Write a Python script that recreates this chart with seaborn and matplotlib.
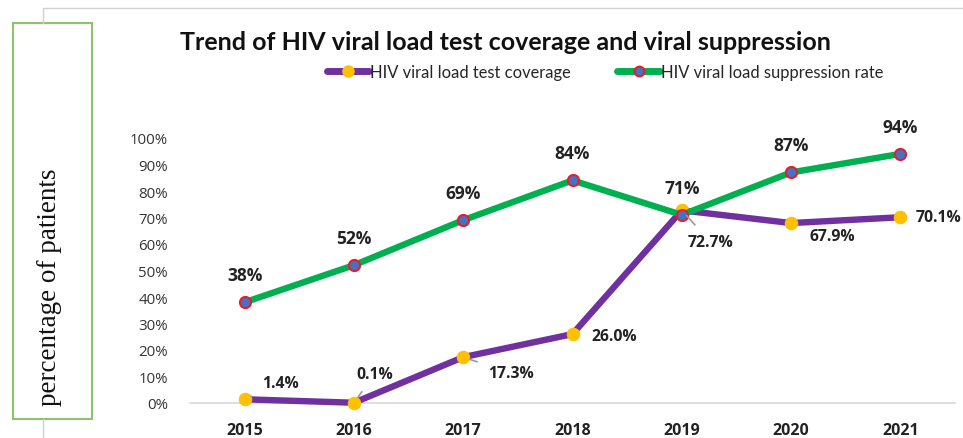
import numpy as np
import pandas as pd
import matplotlib
matplotlib.use("Agg")
import matplotlib.pyplot as plt
from matplotlib.lines import Line2D
from matplotlib.patches import Rectangle
import seaborn as sns

# data
years = [2015, 2016, 2017, 2018, 2019, 2020, 2021]
coverage = [1.4, 0.1, 17.3, 26.0, 72.7, 67.9, 70.1]
suppression = [38, 52, 69, 84, 71, 87, 94]
cov_labels = ["1.4%", "0.1%", "17.3%", "26.0%", "72.7%", "67.9%", "70.1%"]
sup_labels = ["38%", "52%", "69%", "84%", "71%", "87%", "94%"]
yticks = [0, 10, 20, 30, 40, 50, 60, 70, 80, 90, 100]

df = pd.DataFrame({"year": years, "coverage": coverage, "suppression": suppression})

sns.set_theme(style="white")
plt.rcParams["font.family"] = ["Open Sans", "DejaVu Sans"]

purple = "#7030A0"
green = "#00B050"
yellow = "#FFC000"
blue = "#4472C4"
red = "#E02030"

fig = plt.figure(figsize=(9.63, 4.39), dpi=100)
ax = fig.add_axes([190 / 963, 1 - 404 / 439, 765 / 963, 265 / 439])

sns.lineplot(data=df, x="year", y="coverage", ax=ax, color=purple, linewidth=4.6,
             marker="o", markersize=9, markerfacecolor=yellow,
             markeredgecolor=yellow, clip_on=False, zorder=3)
sns.lineplot(data=df, x="year", y="suppression", ax=ax, color=green, linewidth=4.6,
             marker="o", markersize=8, markerfacecolor=blue,
             markeredgecolor=red, markeredgewidth=1.5, clip_on=False, zorder=4)

ax.set_xlim(2014.5, 2021.5)
ax.set_ylim(0, 100)
ax.set_xticks(years)
ax.set_xticklabels([str(y) for y in years], fontsize=11.5, fontweight="bold", color="#222222")
ax.set_yticks(yticks)
ax.set_yticklabels([f"{t}%" for t in yticks], fontsize=10.8, color="#333333")
ax.tick_params(axis="both", length=0)
ax.tick_params(axis="x", pad=14)
ax.tick_params(axis="y", pad=16)
ax.set_xlabel("")
ax.set_ylabel("")
for s in ["top", "right", "left"]:
    ax.spines[s].set_visible(False)
ax.spines["bottom"].set_color("#D9D9D9")
ax.spines["bottom"].set_linewidth(1.2)

# suppression labels above points
for x, y, t in zip(years, suppression, sup_labels):
    ax.annotate(t, (x, y), xytext=(0, 27), textcoords="offset pixels",
                ha="center", va="center", fontsize=12.5, fontweight="bold",
                color="#222222", zorder=6)

# coverage labels with leader lines
offsets = [(36, 16), (21, 29), (48, -16), (42, -2), (29, -32), (41, -13), (38, 0)]
leaders = [True, True, True, False, True, True, False]
for x, y, t, off, ld in zip(years, coverage, cov_labels, offsets, leaders):
    kw = {}
    if ld:
        kw["arrowprops"] = dict(arrowstyle="-", color="#999999", lw=1.2,
                                shrinkA=6, shrinkB=5)
    ax.annotate(t, (x, y), xytext=off, textcoords="offset pixels",
                ha="center", va="center", fontsize=11.3, fontweight="bold",
                color="#222222", zorder=6, **kw)

# title and legend
fig.text(505 / 963, 1 - 42 / 439, "Trend of HIV viral load test coverage and viral suppression",
         ha="center", va="center", fontsize=18, fontweight="bold",
         family=["Lato", "DejaVu Sans"], color="#111111")

handles = [
    Line2D([0], [0], color=purple, lw=5, marker="o", markersize=8,
           markerfacecolor=yellow, markeredgecolor=yellow),
    Line2D([0], [0], color=green, lw=5, marker="o", markersize=7,
           markerfacecolor=blue, markeredgecolor=red, markeredgewidth=1.5),
]
fig.legend(handles, ["HIV viral load test coverage", "HIV viral load suppression rate"],
           loc="center", bbox_to_anchor=(605 / 963, 1 - 73 / 439), ncol=2,
           frameon=False, handlelength=2.6, handletextpad=0.05, columnspacing=2.8,
           prop={"family": ["Lato", "DejaVu Sans"], "size": 11.9})

# y label box
fig.patches.append(Rectangle((13 / 963, 1 - 420 / 439), 79 / 963, 396 / 439,
                             transform=fig.transFigure, fill=False,
                             edgecolor="#8DC26F", linewidth=1.5))
fig.text(50 / 963, 1 - 287 / 439, "percentage of patients", rotation=90,
         ha="center", va="center", fontsize=19.5,
         family=["Liberation Serif", "DejaVu Serif"], color="#111111")

# faint outer frame lines
fig.add_artist(Line2D([43 / 963, 1], [1 - 9 / 439, 1 - 9 / 439],
                      transform=fig.transFigure, color="#D0D0D0", lw=1))
fig.add_artist(Line2D([43 / 963, 43 / 963], [1 - 9 / 439, 1 - 24 / 439],
                      transform=fig.transFigure, color="#D0D0D0", lw=1))
fig.add_artist(Line2D([43 / 963, 43 / 963], [1 - 420 / 439, 0],
                      transform=fig.transFigure, color="#D0D0D0", lw=1))

fig.savefig("out.png", dpi=100)
